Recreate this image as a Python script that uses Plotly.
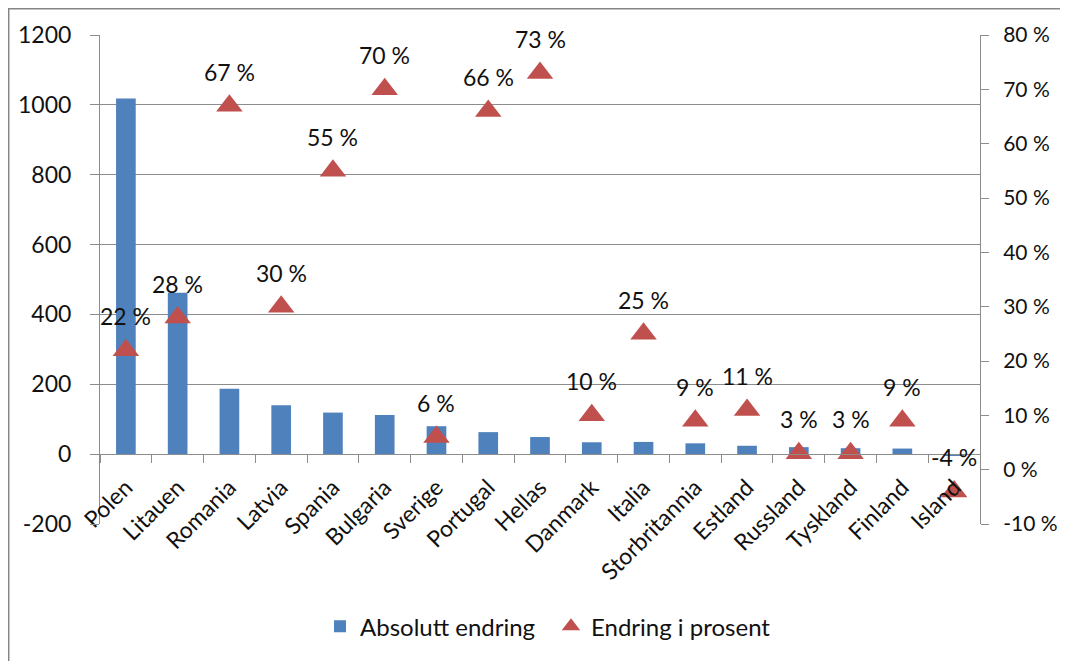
import plotly.graph_objects as go

COUNTRIES = ['Polen', 'Litauen', 'Romania', 'Latvia', 'Spania', 'Bulgaria', 'Sverige',
             'Portugal', 'Hellas', 'Danmark', 'Italia', 'Storbritannia', 'Estland',
             'Russland', 'Tyskland', 'Finland', 'Island']
ABS_CHANGE = [1018, 462, 187, 140, 119, 112, 80, 63, 49, 34, 35, 31, 24, 20, 17, 16, -5]
PCT_CHANGE = [22, 28, 67, 30, 55, 70, 6, 66, 73, 10, 25, 9, 11, 3, 3, 9, -4]

ABS_TICKS = [-200, 0, 200, 400, 600, 800, 1000, 1200]
PCT_TICKS = [-10, 0, 10, 20, 30, 40, 50, 60, 70, 80]

BAR_COLOR = '#4F81BD'
TRI_COLOR = '#C0504D'
GRID_COLOR = '#8C8C8C'
FONT = dict(family='Lato, Carlito, Liberation Sans, sans-serif', size=23, color='#111111')

fig = go.Figure()

fig.add_trace(go.Bar(
    x=COUNTRIES,
    y=ABS_CHANGE,
    name='Absolutt endring',
    marker=dict(color=BAR_COLOR, line=dict(width=0)),
    yaxis='y',
))

fig.add_trace(go.Scatter(
    x=COUNTRIES,
    y=PCT_CHANGE,
    name='Endring i prosent',
    mode='markers',
    marker=dict(symbol='triangle-up', size=23, color=TRI_COLOR),
    yaxis='y2',
))

# percentage labels above the triangles
for c, p in zip(COUNTRIES, PCT_CHANGE):
    fig.add_annotation(x=c, y=p, yref='y2', text=f'{p} %', showarrow=False,
                       yshift=34, font=FONT)

# outer chart frame (page has an 8px body margin, so the figure starts at 8,8)
fig.add_shape(type='rect', xref='paper', yref='paper', x0=-0.104, x1=1.2,
              y0=-0.4, y1=1.054, line=dict(color='#868686', width=2), layer='below')

fig.update_layout(
    width=1060, height=653,
    margin=dict(l=92, r=88, t=27, b=137, autoexpand=False),
    plot_bgcolor='white', paper_bgcolor='white',
    font=FONT,
    bargap=0.62,
    showlegend=True,
    legend=dict(orientation='h', x=0.25, xanchor='left', y=-0.21, yanchor='middle',
                font=dict(size=24), entrywidth=186, entrywidthmode='pixels'),
    xaxis=dict(
        type='category', range=[-0.5, len(COUNTRIES) - 0.5], autorange=False,
        anchor='free', position=0.1432, automargin=False,
        showline=True, linecolor=GRID_COLOR, linewidth=1,
        ticks='outside', tickson='boundaries', ticklen=8, tickcolor=GRID_COLOR,
        tickangle=-45, showgrid=False, ticklabelstandoff=10,
    ),
    yaxis=dict(
        range=[-200, 1200], tickvals=ABS_TICKS, ticktext=[str(v) for v in ABS_TICKS],
        showgrid=True, gridcolor=GRID_COLOR, gridwidth=1, automargin=False,
        showline=True, linecolor=GRID_COLOR, ticks='outside', ticklen=9,
        tickcolor=GRID_COLOR, zeroline=False, ticklabelstandoff=14,
    ),
    yaxis2=dict(
        range=[-10, 80], tickvals=PCT_TICKS, ticktext=[f'{v} %' for v in PCT_TICKS],
        overlaying='y', side='right', showgrid=False, automargin=False,
        showline=True, linecolor=GRID_COLOR, ticks='outside', ticklen=8,
        tickcolor=GRID_COLOR, zeroline=False, ticklabelstandoff=10,
        tickfont=dict(size=21),
    ),
)

fig.write_html('out.html')
